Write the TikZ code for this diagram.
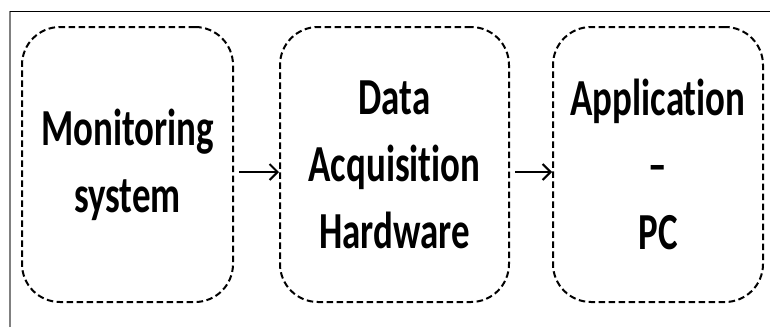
\documentclass[tikz,border=0pt]{standalone}
\usepackage{fontspec}
\usetikzlibrary{arrows.meta, positioning}
\newfontfamily\stagefont[FakeStretch=0.71, Ligatures={TeX, NoCommon}]{Carlito}
\tikzset{
  x=1pt, y=-1pt,
  stage/.style={draw, line width=2pt, dash pattern=on 6.5pt off 3.5pt,
    rounded corners=38pt, minimum height=275pt, inner sep=0pt, outer sep=0pt,
    align=center, font=\fontsize{52}{67}\selectfont\stagefont\bfseries},
  flow/.style={-{Straight Barb[length=8pt, width=16pt, line width=2pt]},
    line width=2pt, shorten <=6pt, shorten >=1pt},
}
\begin{document}
\begin{tikzpicture}
  \useasboundingbox (0,0) rectangle (770,327);
  % frame lines
  \draw[gray, line width=1.2pt] (10,327) -- (10,11);
  \draw[line width=0.9pt] (10,11) -- (770,11);
  % the three stages
  \node[stage, minimum width=211pt] (mon) at (127.5,164.5) {Monitoring\\system};
  \node[stage, minimum width=229pt, right=47pt of mon] (daq) {Data\\Acquisition\\Hardware};
  \node[stage, minimum width=210pt, right=44pt of daq] (app) {Application\\--\\PC};
  % arrows
  \draw[flow] ([yshift=-7.5pt]mon.east) -- ([yshift=-7.5pt]daq.west);
  \draw[flow] ([yshift=-7.5pt]daq.east) -- ([yshift=-7.5pt]app.west);
\end{tikzpicture}
\end{document}
